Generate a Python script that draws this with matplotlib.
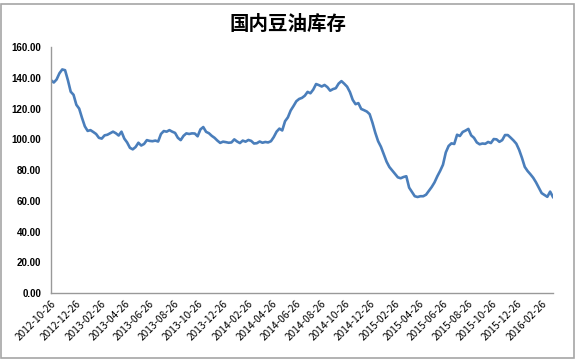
import numpy as np
import pandas as pd
import matplotlib
matplotlib.use("Agg")
from matplotlib import pyplot as plt
import matplotlib.dates as mdates
from matplotlib.patches import Rectangle

plt.rcParams['font.family'] = ['Noto Sans CJK SC', 'DejaVu Sans']

# 周度数据, 起始 2012-10-26
start_date = "2012-10-26"
stock = [
    138.5, 137.0, 139.0, 143.0, 145.5, 145.0, 138.5, 131.0, 129.0, 122.5,
    120.0, 114.0, 108.5, 105.5, 106.0, 104.8, 103.5, 101.0, 100.5, 102.6,
    103.0, 104.0, 105.0, 104.0, 102.5, 105.0, 100.5, 98.0, 94.5, 93.5,
    95.0, 97.8, 96.0, 97.0, 99.5, 99.0, 98.8, 99.2, 98.6, 103.5,
    105.4, 105.0, 106.0, 105.0, 104.2, 101.0, 99.5, 102.3, 103.9, 103.5,
    103.9, 103.8, 102.0, 106.5, 108.0, 104.9, 104.0, 102.3, 101.0, 99.2,
    97.7, 98.5, 98.2, 97.8, 98.0, 100.0, 98.6, 97.6, 99.2, 98.5,
    99.6, 99.0, 97.3, 97.5, 98.6, 97.8, 98.3, 98.0, 98.8, 101.5,
    105.0, 107.0, 105.8, 111.8, 114.3, 118.8, 121.7, 124.8, 126.3, 127.0,
    128.4, 130.9, 130.0, 132.4, 136.0, 135.3, 134.4, 135.4, 134.0, 131.7,
    132.7, 133.3, 136.3, 137.9, 136.2, 134.3, 130.8, 125.7, 122.9, 123.6,
    119.8, 119.0, 118.1, 116.4, 110.8, 104.3, 98.8, 95.2, 90.3, 85.5,
    82.0, 79.8, 77.5, 75.3, 74.7, 75.5, 76.0, 68.6, 65.8, 63.0,
    62.5, 63.0, 63.0, 64.0, 66.5, 69.0, 72.0, 76.0, 79.5, 83.5,
    91.5, 95.7, 97.4, 97.0, 103.0, 102.2, 104.8, 105.7, 106.8, 102.6,
    101.0, 98.0, 96.8, 97.3, 97.1, 98.3, 97.6, 100.2, 100.0, 98.4,
    99.5, 102.8, 102.8, 101.1, 99.3, 97.2, 93.2, 88.0, 82.1, 79.4,
    77.3, 75.0, 72.0, 68.5, 65.0, 63.8, 62.6, 66.0, 62.5,
]
dates = pd.date_range(start_date, periods=len(stock), freq="7D")

fig = plt.figure(figsize=(5.76, 3.6), dpi=100)
ax = fig.add_axes([0.0885, 0.186, 0.8715, 0.683])

ax.plot(dates, stock, color="#4a7ebb", linewidth=1.9)

ax.set_ylim(0, 160)
ax.set_yticks(np.arange(0, 161, 20))
ax.yaxis.set_major_formatter(matplotlib.ticker.FormatStrFormatter("%.2f"))
ax.set_xlim(dates[0], dates[-1])
ax.xaxis.set_major_locator(mdates.MonthLocator(bymonth=[2, 4, 6, 8, 10, 12], bymonthday=26))
ax.xaxis.set_major_formatter(mdates.DateFormatter("%Y-%m-%d"))

for s in ["top", "right"]:
    ax.spines[s].set_visible(False)
for s in ["left", "bottom"]:
    ax.spines[s].set_color("#999999")
    ax.spines[s].set_linewidth(1.0)

ax.tick_params(axis="both", length=0)
ax.tick_params(axis="y", pad=7)
for lab in ax.get_yticklabels():
    lab.set_fontsize(7)
    lab.set_fontweight("bold")
    lab.set_family(["Liberation Sans"])
for lab in ax.get_xticklabels():
    lab.set_fontsize(7.3)
    lab.set_rotation(45)
    lab.set_ha("right")
    lab.set_rotation_mode("anchor")
ax.tick_params(axis="x", pad=4)

fig.text(0.5, 0.933, "国内豆油库存", ha="center", va="center",
         fontsize=14, fontweight="bold")

fig.patches.append(Rectangle((0.002, 0.006), 0.994, 0.984, transform=fig.transFigure,
                             fill=False, edgecolor="#a6a6a6", linewidth=1.2))

fig.savefig("out.png", dpi=100)
